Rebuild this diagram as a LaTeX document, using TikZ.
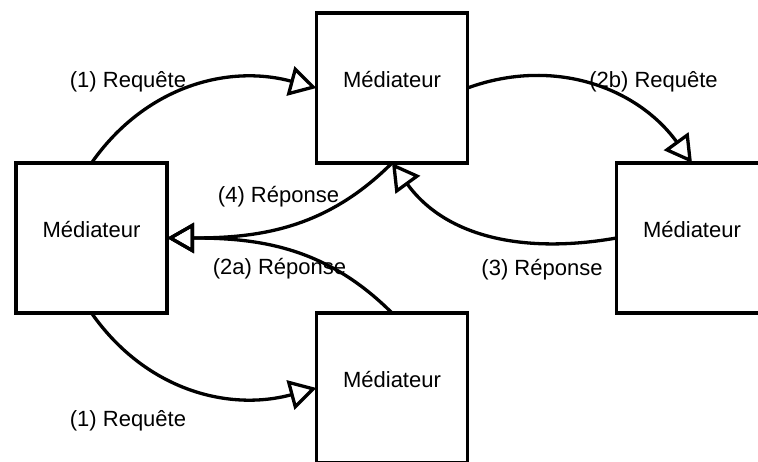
\documentclass[tikz,border=0pt]{standalone}
\usepackage{fontspec}
\setmainfont{Liberation Sans}
\usetikzlibrary{arrows.meta}
\begin{document}
\begin{tikzpicture}[x=1pt,y=1pt,
  box/.style={draw, line width=3.3pt, minimum width=151pt, minimum height=150pt, inner sep=0pt, outer sep=0pt},
  lbl/.style={anchor=base, inner sep=0pt, font=\fontsize{22}{26}\selectfont},
  conn/.style={line width=3.3pt, -{Triangle[open, length=27pt, width=30pt]}},
]
\clip (0,0) rectangle (758,462);
\node[box] (T) at (392,374) {};
\node[box] (L) at (91.5,224) {};
\node[box] (R) at (692,224) {};
\node[box] (B) at (392,74) {};
\node[lbl] (tT) at (T.center) {Médiateur};
\node[lbl] (tL) at (L.center) {Médiateur};
\node[lbl] (tR) at (R.center) {Médiateur};
\node[lbl] (tB) at (B.center) {Médiateur};
\node[lbl] (l1) at (128,374) {(1) Requête};
\node[lbl] (l1b) at (128,35) {(1) Requête};
\node[lbl] (l2b) at (653.5,374) {(2b) Requête};
\node[lbl] (l3) at (542,186) {(3) Réponse};
\node[lbl] (l2a) at (279.5,187) {(2a) Réponse};
\node[lbl] (l4) at (278.5,259) {(4) Réponse};
\draw[conn] (L.north) to[out=55,in=165] (T.west);
\draw[conn] (L.south) to[out=-55,in=195] (B.west);
\draw[conn] (T.east) to[out=20,in=126] (R.north);
\draw[conn] (R.west) to[out=190,in=-54] (T.south);
\draw[conn] (T.south) to[out=-135,in=0] (L.east);
\draw[conn] (B.north) to[out=135,in=0] (L.east);
\end{tikzpicture}
\end{document}
